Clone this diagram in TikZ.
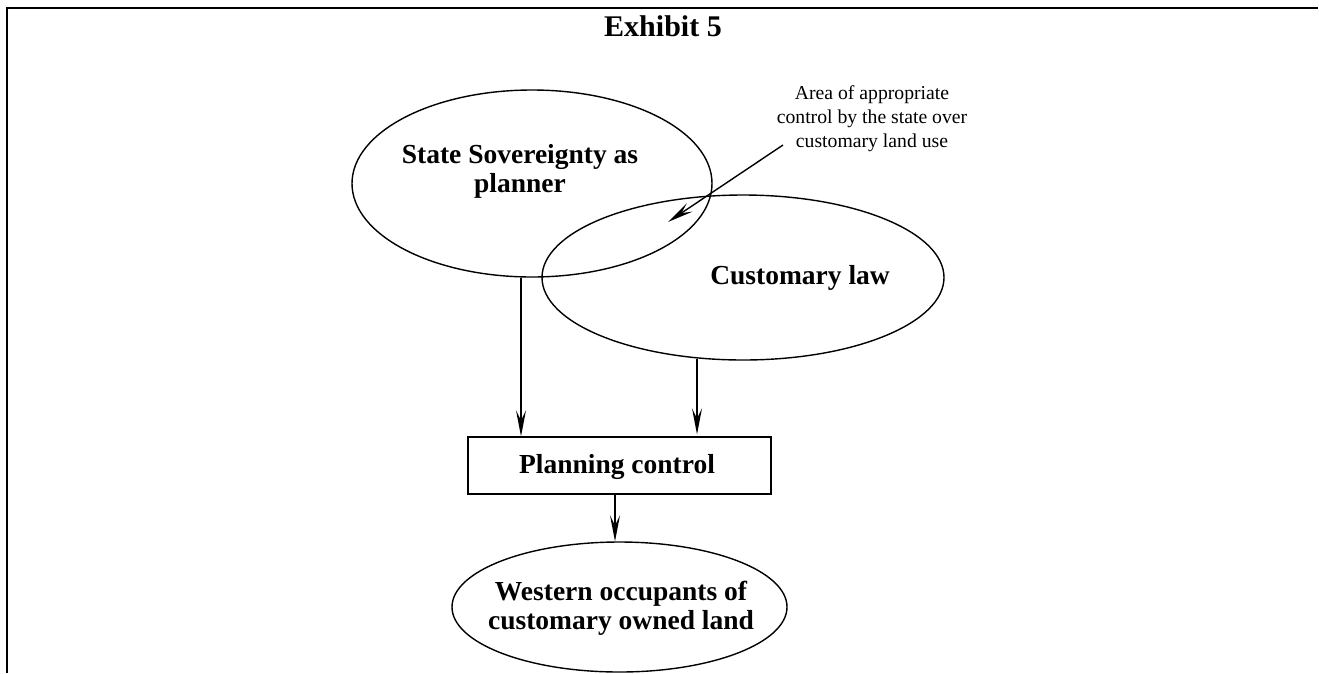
\documentclass[tikz,border=0pt]{standalone}
\usepackage{fontspec}
\setmainfont{Liberation Serif}
\usetikzlibrary{shapes.geometric,arrows.meta}
\begin{document}
\begin{tikzpicture}[x=1pt,y=-1pt,
  bubble/.style={draw,ellipse,line width=1.4pt,inner sep=0pt},
  labelbf/.style={font=\fontsize{27.5}{29}\selectfont\bfseries,align=center,inner sep=0pt},
  notetext/.style={font=\fontsize{19.7}{23.7}\selectfont,align=center,inner sep=0pt},
  stepbox/.style={draw,rectangle,line width=1.4pt,inner sep=0pt},
  arr/.style={line width=1.4pt,-{Stealth[length=26pt,width=10pt,inset=10pt]}}]
\useasboundingbox (0,0) rectangle (1319,673);

% frame
\draw[line width=2.2pt] (7,673) -- (7,8) -- (1318,8);

% title
\node[font=\fontsize{30}{32}\selectfont\bfseries,anchor=base,inner sep=0pt] (title) at (663,36) {Exhibit 5};

% ellipses
\node[bubble,minimum width=360pt,minimum height=187pt] (e1) at (532,183.5) {};
\node[bubble,minimum width=402pt,minimum height=165pt] (e2) at (743,277.5) {};
\node[bubble,minimum width=335pt,minimum height=130pt] (e3) at (619.5,607) {};

% box
\node[stepbox,minimum width=303pt,minimum height=57pt] (pc) at (619.5,465.5) {};

% labels
\node[labelbf] (t1) at (520,171) {State Sovereignty as\\planner};
\node[labelbf,anchor=base] (t2) at (800,284) {Customary law};
\node[labelbf,anchor=base] (t3) at (617,473) {Planning control};
\node[labelbf] (t4) at (621,608) {Western occupants of\\customary owned land};

% annotation
\node[notetext] (note) at (872,118.5) {Area of appropriate\\control by the state over\\customary land use};
\coordinate (ns) at (783,145);
\coordinate (nt) at (668,222);
\draw[arr] (ns) -- (nt);

% connectors
\draw[arr] ([xshift=-11pt]e1.south) -- ([xshift=-11pt]e1.south |- pc.north);
\draw[arr] ([xshift=-46pt,yshift=2pt]e2.south) -- ([xshift=-46pt,yshift=2pt]e2.south |- pc.north);
\draw[arr] ([xshift=-4.5pt]pc.south) -- ([xshift=-4.5pt]pc.south |- e3.north);
\end{tikzpicture}
\end{document}
